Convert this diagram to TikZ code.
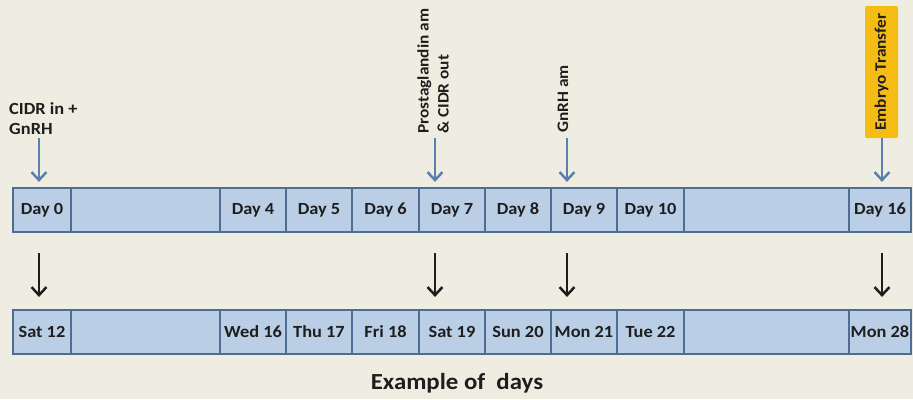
\documentclass[tikz,border=0pt]{standalone}
\usepackage{fontspec}
\setmainfont{Carlito}[FakeStretch=1.08]
\usetikzlibrary{arrows.meta}
\definecolor{paper}{HTML}{EFECE1}
\definecolor{ink}{HTML}{1E1E1E}
\definecolor{cellfill}{HTML}{BACEE6}
\definecolor{celledge}{HTML}{4E6C94}
\definecolor{cue}{HTML}{5B80B0}
\definecolor{etfill}{HTML}{F6BC16}
\tikzset{
  cell/.style={fill=cellfill,draw=celledge,line width=2.2bp,minimum height=44bp,inner sep=0pt,
    font=\fontsize{17bp}{20bp}\selectfont\bfseries,text=ink},
  note/.style={font=\fontsize{17bp}{20bp}\selectfont\bfseries,text=ink,inner sep=0pt},
  vnote/.style={note,font=\fontsize{16bp}{20bp}\selectfont\bfseries,rotate=90,anchor=west,align=left},
  etbox/.style={vnote,anchor=center,fill=etfill,rounded corners=2bp,minimum width=132bp,minimum height=33bp},
  cuearrow/.style={draw=cue,line width=2.5bp,-{Straight Barb[length=8bp,width=15bp]}},
  dayarrow/.style={draw=ink,line width=2.5bp,-{Straight Barb[length=8bp,width=15bp]}}
}
\begin{document}
\begin{tikzpicture}[x=1bp,y=-1bp]
\path[use as bounding box,fill=paper] (0,0) rectangle (913,399);

% protocol days
\node[cell,minimum width=58bp] (d0) at (42,210) {Day 0};
\node[cell,minimum width=149bp] (dgap1) at (145.5,210) {};
\node[cell,minimum width=66bp] (d4) at (253,210) {Day 4};
\node[cell,minimum width=66bp] (d5) at (319,210) {Day 5};
\node[cell,minimum width=67bp] (d6) at (385.5,210) {Day 6};
\node[cell,minimum width=66bp] (d7) at (452,210) {Day 7};
\node[cell,minimum width=66bp] (d8) at (518,210) {Day 8};
\node[cell,minimum width=66bp] (d9) at (584,210) {Day 9};
\node[cell,minimum width=67bp] (d10) at (650.5,210) {Day 10};
\node[cell,minimum width=165bp] (dgap2) at (766.5,210) {};
\node[cell,minimum width=62bp] (d16) at (880,210) {Day 16};

% calendar days
\node[cell,minimum width=58bp] (s0) at (42,332) {Sat 12};
\node[cell,minimum width=149bp] (sgap1) at (145.5,332) {};
\node[cell,minimum width=66bp] (s4) at (253,332) {Wed 16};
\node[cell,minimum width=66bp] (s5) at (319,332) {Thu 17};
\node[cell,minimum width=67bp] (s6) at (385.5,332) {Fri 18};
\node[cell,minimum width=66bp] (s7) at (452,332) {Sat 19};
\node[cell,minimum width=66bp] (s8) at (518,332) {Sun 20};
\node[cell,minimum width=66bp] (s9) at (584,332) {Mon 21};
\node[cell,minimum width=67bp] (s10) at (650.5,332) {Tue 22};
\node[cell,minimum width=165bp] (sgap2) at (766.5,332) {};
\node[cell,minimum width=62bp] (s16) at (880,332) {Mon 28};

% treatments
\node[note,anchor=north west,align=left] (cidr-in) at (9,102) {CIDR in +\\GnRH};
\node[vnote] (pg) at (433,134) {Prostaglandin am\\\& CIDR out};
\node[vnote] (gnrh) at (563,133) {GnRH am};
\node[etbox] (et) at (881.5,72) {Embryo Transfer};
\node[note,font=\fontsize{23bp}{26bp}\selectfont\bfseries] (caption) at (457,383) {Example of \ days};

\coordinate (a0) at (39,138);
\coordinate (a7) at (435,138);
\coordinate (a9) at (567,138);
\coordinate (a16) at (882,138);

\draw[cuearrow,shorten >=5bp] (a0) -- (a0 |- d0.north);
\draw[cuearrow,shorten >=5bp] (a7) -- (a7 |- d7.north);
\draw[cuearrow,shorten >=5bp] (a9) -- (a9 |- d9.north);
\draw[cuearrow,shorten >=5bp] (a16) -- (a16 |- d16.north);

\draw[dayarrow,shorten <=20bp,shorten >=12bp] (a0 |- d0.south) -- (a0 |- s0.north);
\draw[dayarrow,shorten <=20bp,shorten >=12bp] (a7 |- d7.south) -- (a7 |- s7.north);
\draw[dayarrow,shorten <=20bp,shorten >=12bp] (a9 |- d9.south) -- (a9 |- s9.north);
\draw[dayarrow,shorten <=20bp,shorten >=12bp] (a16 |- d16.south) -- (a16 |- s16.north);
\end{tikzpicture}
\end{document}
